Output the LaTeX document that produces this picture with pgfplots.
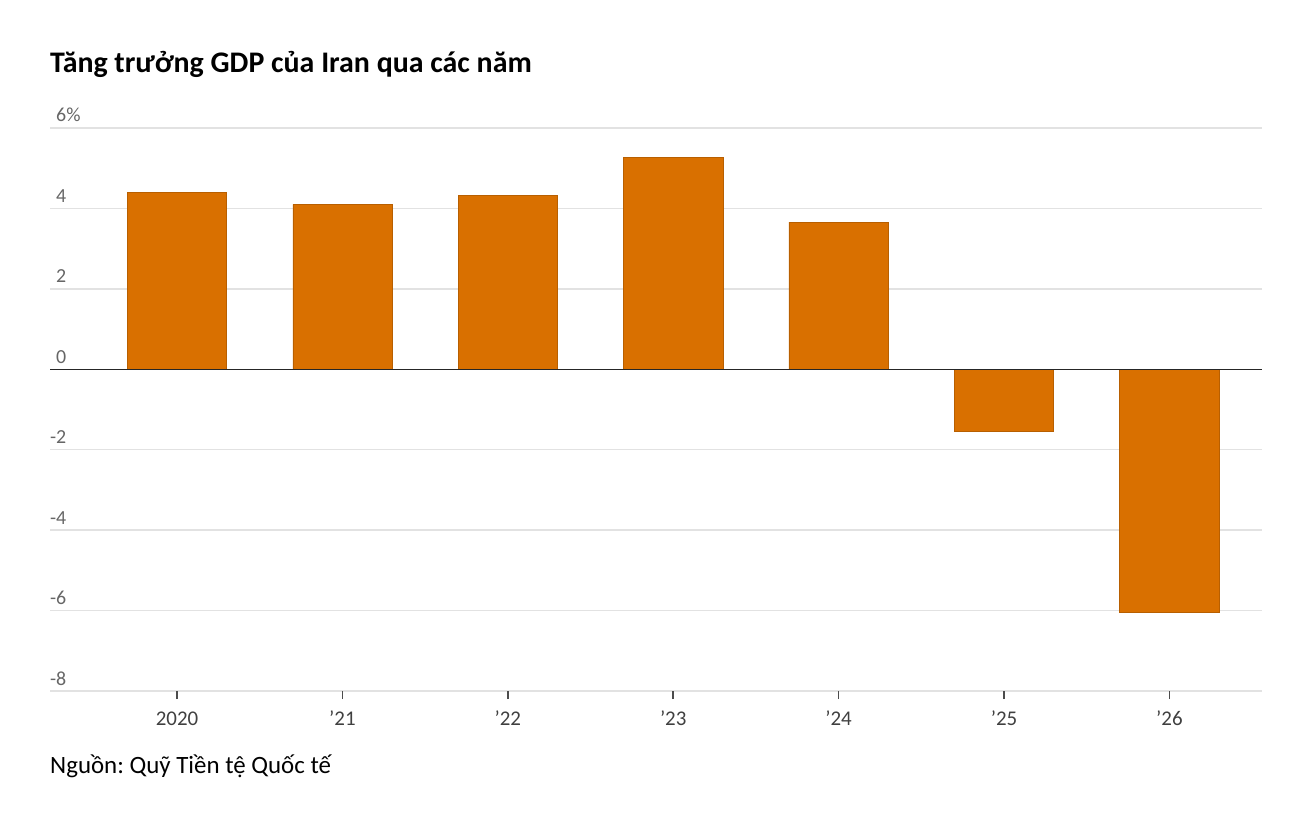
\documentclass[border=0pt]{standalone}
\usepackage{fontspec}
\setmainfont{Carlito}
\frenchspacing
\usepackage{pgfplots}
\pgfplotsset{compat=1.18}
\definecolor{barc}{RGB}{217,112,0}
\definecolor{gridc}{RGB}{226,226,226}
\begin{document}
\begin{tikzpicture}
\useasboundingbox (-50bp,-125bp) rectangle (1262bp,691bp);
\begin{axis}[
  at={(0,0)}, anchor=south west, scale only axis,
  width=1212bp, height=563bp,
  xmin=-0.768, xmax=6.56, ymin=-8, ymax=6,
  axis line style={draw=none},
  ymajorgrids, grid style={gridc, line width=1.5bp},
  ytick={-8,-6,-4,-2,0,2,4,6},
  yticklabels={\llap{-}8,\llap{-}6,\llap{-}4,\llap{-}2,0,2,4,6\%},
  ytick style={draw=none},
  yticklabel style={anchor=base west, inner sep=0pt, xshift=14bp, yshift=6bp, text=black!60, font=\fontsize{20}{24}\selectfont},
  xtick={0,1,2,3,4,5,6},
  xticklabels={2020,’21,’22,’23,’24,’25,’26},
  xtick pos=bottom, tick align=outside, major tick length=8bp,
  xtick style={draw=black!70, line width=1.5bp},
  xticklabel style={anchor=base, inner sep=0pt, text=black!75, font=\fontsize{21}{25}\selectfont},
  every x tick label/.append style={yshift=-26bp},
  ybar, bar width=0.6,
  clip=false,
]
\addplot[fill=barc, draw=barc!85!black, line width=0.6bp] coordinates {
  (0,4.40) (1,4.10) (2,4.32) (3,5.27) (4,3.66) (5,-1.54) (6,-6.04)
};
\draw[black!85, line width=1.5bp] (axis cs:-0.768,0) -- (axis cs:6.56,0);
\end{axis}
\node[anchor=base west, inner sep=0pt, font=\fontsize{30}{36}\selectfont\bfseries] at (0bp,618bp) {Tăng trưởng GDP của Iran qua các năm};
\node[anchor=base west, inner sep=0pt, font=\fontsize{25}{30}\selectfont] at (0bp,-82bp) {Nguồn: Quỹ Tiền tệ Quốc tế};
\end{tikzpicture}
\end{document}
